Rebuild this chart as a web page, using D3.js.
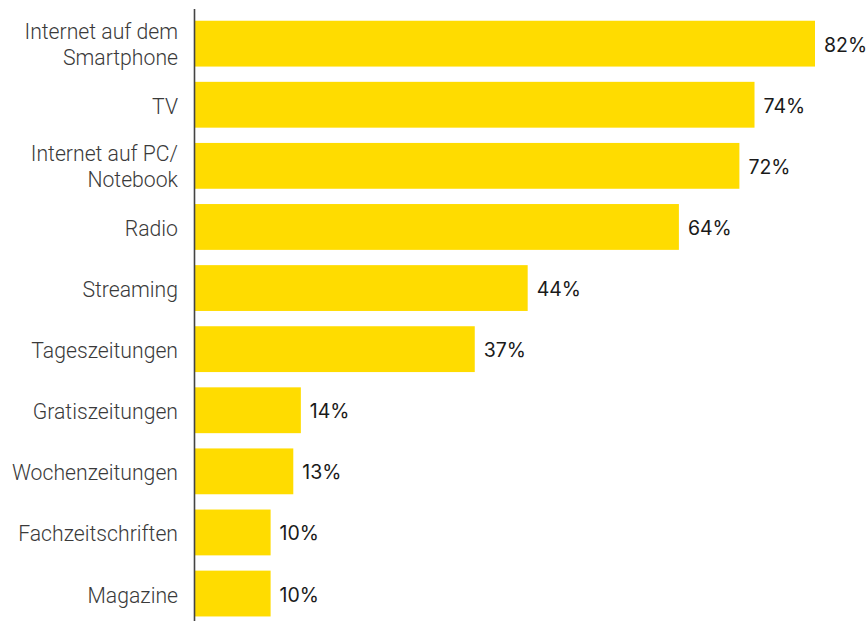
<!DOCTYPE html>
<html>
<head>
<meta charset="utf-8">
<script src="https://cdn.jsdelivr.net/npm/d3@7"></script>
<style>
  html, body { margin: 0; padding: 0; background: #ffffff; }
  svg { display: block; }
</style>
</head>
<body>
<svg id="chart" width="866" height="621"></svg>
<script>
// Mediennutzung: Anteil der Befragten je Medium (in Prozent)
const categories = [
  ["Internet auf dem", "Smartphone"],
  ["TV"],
  ["Internet auf PC/", "Notebook"],
  ["Radio"],
  ["Streaming"],
  ["Tageszeitungen"],
  ["Gratiszeitungen"],
  ["Wochenzeitungen"],
  ["Fachzeitschriften"],
  ["Magazine"]
];
const values = [82, 74, 72, 64, 44, 37, 14, 13, 10, 10];
const valueLabels = values.map(v => v + "%");

const svg = d3.select("#chart");
const width = 866, height = 621;
const axisX = 195;

const x = d3.scaleLinear().domain([0, 82]).range([axisX, 815]);
const y = d3.scaleBand()
  .domain(d3.range(categories.length))
  .range([13.1, 624.1])
  .paddingInner(0.25)
  .paddingOuter(0.125);

// bars
svg.append("g").selectAll("rect")
  .data(values)
  .join("rect")
  .attr("x", x(0))
  .attr("y", (d, i) => y(i))
  .attr("width", d => x(d) - x(0))
  .attr("height", y.bandwidth())
  .attr("fill", "#FFDC00");

// vertical axis line
svg.append("line")
  .attr("x1", axisX - 0.5).attr("x2", axisX - 0.5)
  .attr("y1", 9).attr("y2", height)
  .attr("stroke", "#444")
  .attr("stroke-width", 1.6);

// category labels (possibly two lines)
const lineH = 26;
const catG = svg.append("g")
  .attr("font-family", "Roboto, 'Noto Sans', sans-serif")
  .attr("font-weight", 300)
  .attr("font-size", 21.2)
  .attr("fill", "#3a3a3a")
  .attr("text-anchor", "end");

categories.forEach((lines, i) => {
  const cy = y(i) + y.bandwidth() / 2;
  const first = lines.length > 1 ? cy + 8 - (lines.length - 1) * lineH / 2 : cy + 9;
  const t = catG.append("text").attr("x", 178);
  lines.forEach((ln, j) => {
    t.append("tspan").attr("x", 178).attr("y", first + j * lineH).text(ln);
  });
});

// value labels
svg.append("g")
  .attr("font-family", "Inter, 'Noto Sans', sans-serif")
  .attr("font-size", 19.5)
  .attr("fill", "#1a1a1a")
  .selectAll("text")
  .data(values)
  .join("text")
  .attr("x", d => x(d) + 9)
  .attr("y", (d, i) => y(i) + y.bandwidth() / 2 + 8)
  .text((d, i) => valueLabels[i]);
</script>
</body>
</html>
